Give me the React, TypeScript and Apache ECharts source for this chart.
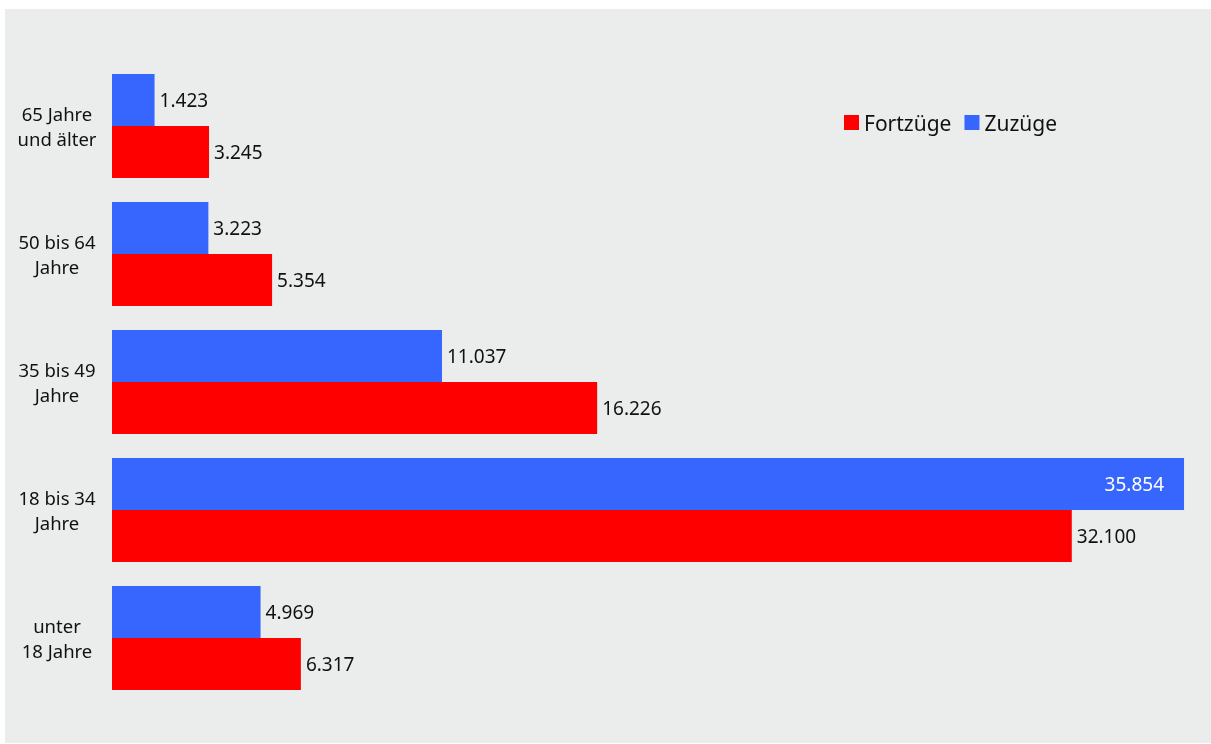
import React, { useEffect, useRef } from "react";
import * as echarts from "echarts";

const categories = ["unter\n18 Jahre", "18 bis 34\nJahre", "35 bis 49\nJahre", "50 bis 64\nJahre", "65 Jahre\nund älter"];
const fortzuege = [6317, 32100, 16226, 5354, 3245];
const zuzuege = [4969, 35854, 11037, 3223, 1423];
const seriesNames = ["Fortzüge", "Zuzüge"];

const fmt = (v: number) => v.toLocaleString("de-DE");
const FONT = "'Noto Sans', sans-serif";

export default function App() {
  const ref = useRef<HTMLDivElement>(null);
  useEffect(() => {
    const chart = echarts.init(ref.current!, null, { renderer: "svg" });
    const labelBase = { show: true, position: "right", distance: 5, fontSize: 19, color: "#111", formatter: (p: any) => fmt(p.value), fontFamily: FONT };
    chart.setOption({
      animation: false,
      textStyle: { fontFamily: FONT },
      graphic: [
        { type: "rect", z: -10, shape: { x: 5, y: 9, width: 1206, height: 734 }, style: { fill: "#ebecec" } },
      ],
      legend: {
        left: 844,
        top: 112,
        padding: 0,
        icon: "rect",
        itemWidth: 15,
        itemHeight: 15,
        itemGap: 13,
        textStyle: { fontSize: 21, color: "#111", fontFamily: FONT },
        data: seriesNames,
      },
      grid: { left: 112, top: 62, width: 1076.4, height: 640, containLabel: false },
      xAxis: { type: "value", min: 0, max: 36000, show: false },
      yAxis: {
        type: "category",
        data: categories,
        axisLine: { show: false },
        axisTick: { show: false },
        axisLabel: { align: "center", margin: 55, fontSize: 18.5, lineHeight: 25, color: "#111", fontFamily: FONT },
      },
      series: [
        {
          name: seriesNames[1],
          type: "bar",
          data: zuzuege.map((v) =>
            v > 30000
              ? { value: v, label: { position: "insideRight", color: "#fff", distance: 20 } }
              : v
          ),
          itemStyle: { color: "#3766ff" },
          barCategoryGap: "18.75%",
          barGap: "0%",
          label: labelBase,
        },
        {
          name: seriesNames[0],
          type: "bar",
          data: fortzuege,
          itemStyle: { color: "#ff0000" },
          barCategoryGap: "18.75%",
          barGap: "0%",
          label: labelBase,
        },
      ],
    });
    return () => chart.dispose();
  }, []);
  return <div ref={ref} style={{ position: "fixed", left: 0, top: 0, width: 1211, height: 744 }} />;
}
